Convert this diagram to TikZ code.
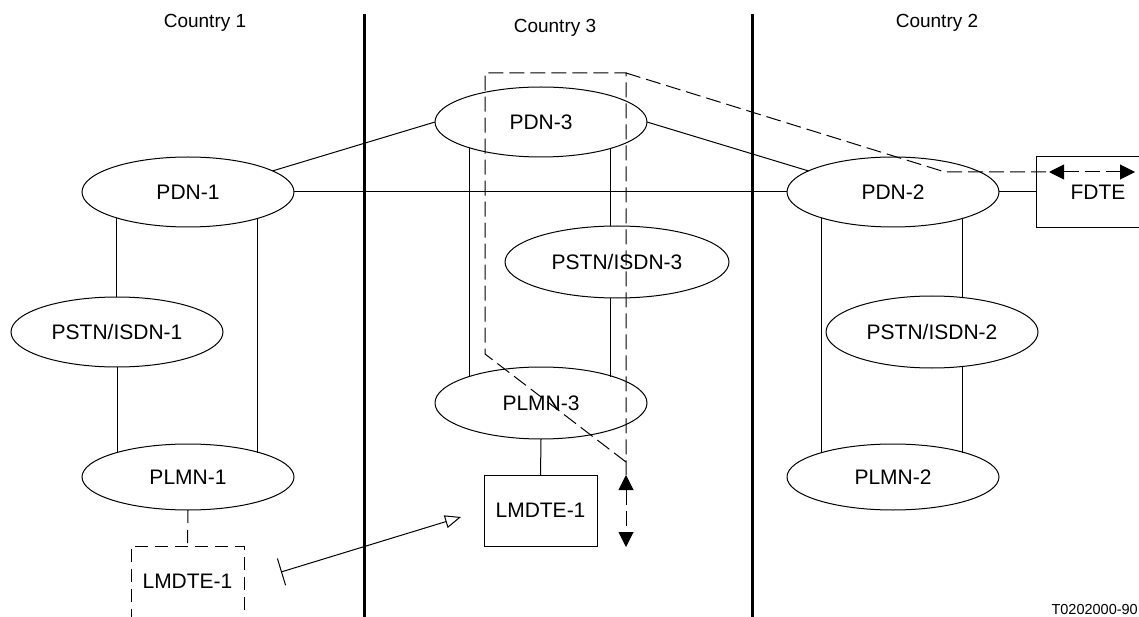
\documentclass[tikz,border=0pt]{standalone}
\usepackage{fontspec}
\setmainfont{Liberation Sans}
\usetikzlibrary{arrows.meta,shapes.geometric,calc}
\begin{document}
\begin{tikzpicture}[x=1pt,y=-1pt,
  net/.style={ellipse, draw, line width=1pt, inner sep=0pt, outer sep=0pt,
    minimum width=212pt, minimum height=70pt, font=\fontsize{21}{25}\selectfont},
  termbox/.style={rectangle, draw, line width=1pt, inner sep=0pt, outer sep=0pt,
    minimum width=113pt, minimum height=71pt, font=\fontsize{21}{25}\selectfont},
  link/.style={line width=1pt},
  dashln/.style={line width=1pt, dash pattern=on 15pt off 6pt},
  boxdash/.style={dash pattern=on 13pt off 7pt},
  border/.style={line width=3pt},
  country/.style={font=\fontsize{19}{23}\selectfont}]
\useasboundingbox (0,0) rectangle (1139,617);

% country labels and borders
\node[country] (c1) at (205,23) {Country 1};
\node[country] (c3) at (555,28) {Country 3};
\node[country] (c2) at (937,23) {Country 2};
\coordinate (b1t) at (364,14); \coordinate (b1b) at (364,617);
\coordinate (b2t) at (752,14); \coordinate (b2b) at (752,617);
\draw[border] (b1t) -- (b1b);
\draw[border] (b2t) -- (b2b);

% networks
\node[net] (pdn1) at (188,192) {PDN-1};
\node[net] (pstn1) at (117,332) {PSTN/ISDN-1};
\node[net, minimum height=66pt] (plmn1) at (188,477) {PLMN-1};
\node[net] (pdn3) at (541,122) {PDN-3};
\node[net, minimum width=224pt, minimum height=72pt] (pstn3) at (617,262) {PSTN/ISDN-3};
\node[net, minimum height=72pt] (plmn3) at (541,403) {PLMN-3};
\node[net] (pdn2) at (893,192) {PDN-2};
\node[net, minimum height=72pt] (pstn2) at (932,332) {PSTN/ISDN-2};
\node[net, minimum height=66pt] (plmn2) at (893,477) {PLMN-2};

% terminals
\node[termbox] (lm3) at (540.5,510.5) {LMDTE-1};
\node[termbox, boxdash] (lm1) at (187.5,581.5) {LMDTE-1};
\node[termbox, minimum width=124pt] (fdte) at (1098,192.5) {FDTE};

% country 1 links
\draw[link] (pdn1.200.1) -- (pdn1.200.1 |- pstn1.north);
\draw[link] (pstn1.south) -- (pstn1.south |- plmn1.161);
\draw[link] (pdn1.339.4) -- (pdn1.339.4 |- plmn1.19.5);
\draw[link, boxdash] (plmn1.south) -- (lm1.north);

% country 3 links
\draw[link] (pdn3.200.1) -- (pdn3.200.1 |- plmn3.159.4);
\draw[link] (pdn3.339.9) -- (pdn3.339.9 |- pstn3.north);
\draw[link] (pdn3.339.9 |- pstn3.south) -- (pdn3.339.9 |- plmn3.20.6);
\draw[link] (plmn3.south) -- (lm3.north);

% country 2 links
\draw[link] (pdn2.200.6) -- (pdn2.200.6 |- plmn2.160.5);
\draw[link] (pdn2.339.9) -- (pdn2.339.9 |- pstn2.47);
\draw[link] (pdn2.339.9 |- pstn2.313) -- (pdn2.339.9 |- plmn2.19);
\draw[link] (pdn2.east) -- (fdte.west |- pdn2.east);

% international links
\draw[link] (pdn1.east) -- (pdn2.west);
\draw[link] (pdn1.14.5) -- (pdn3.west);
\draw[link] (pdn3.east) -- (pdn2.166);

% dashed route
\coordinate (d1) at (485,73);
\coordinate (d2) at (626,73);
\coordinate (d3) at (485,354);
\coordinate (d4) at (626,462);
\coordinate (d5) at (945,172);
\coordinate (h1) at (1049,172);
\coordinate (h2) at (1135,172);
\coordinate (v1) at (626,475);
\coordinate (v2) at (626,547);
\draw[dashln] (d4) -- (d3) -- (d1) -- (d2) -- (v1);
\draw[dashln] (d2) -- (d5) -- (h1);
\draw[dashln, {Triangle[length=15pt,width=15pt]}-{Triangle[length=15pt,width=15pt]}] (h1) -- (h2);
\draw[dashln, {Triangle[length=15pt,width=15pt]}-{Triangle[length=15pt,width=15pt]}] (v1) -- (v2);

% move arrow
\coordinate (m1) at (281,572);
\coordinate (m2) at (461,517);
\draw[link, {Bar[width=28pt]}-{Triangle[open,length=16pt,width=13pt,fill=white]}] (m1) -- (m2);

% reference
\node[anchor=base east, font=\fontsize{14.5}{17}\selectfont, inner sep=0pt] (ref) at (1138,614) {T0202000-90};
\end{tikzpicture}
\end{document}
